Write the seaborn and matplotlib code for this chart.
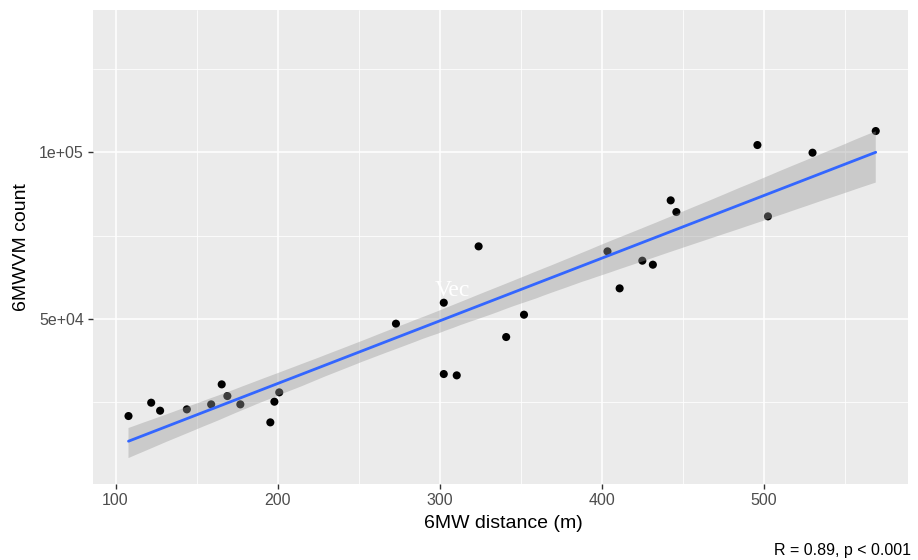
import numpy as np
import pandas as pd
import matplotlib
matplotlib.use("Agg")
import matplotlib.pyplot as plt
import seaborn as sns

# ---- data ----
distance_m = [108, 122, 127.5, 144, 159, 165.5, 169, 177, 195.5, 198, 201,
              273, 302.5, 302.5, 310.5, 324, 341, 352, 403.5, 411, 425,
              431.5, 442.5, 446, 496, 502.5, 530, 569]
wvm_count = [20900, 24900, 22500, 22900, 24400, 30400, 26900, 24400, 19000,
             25200, 28000, 48600, 54900, 33500, 33100, 71800, 44600, 51300,
             70300, 59200, 67500, 66300, 85600, 82100, 102200, 80800, 99900,
             106400]
x_ticks = [100, 200, 300, 400, 500]
y_ticks = [50000, 100000]
y_tick_labels = ["5e+04", "1e+05"]
annotation = "R = 0.89, p < 0.001"
label_text = "Vec"

df = pd.DataFrame({"dist": distance_m, "count": wvm_count})

sns.set_theme(style="darkgrid", rc={
    "axes.facecolor": "#EBEBEB",
    "grid.color": "white",
    "figure.facecolor": "white",
})
plt.rcParams["font.family"] = ["Liberation Sans", "DejaVu Sans"]

fig = plt.figure(figsize=(9.18, 5.6), dpi=100)
ax = fig.add_axes([93 / 918, 1 - 484 / 560, 815 / 918, 474 / 560])

# points first (ribbon drawn over them, as in ggplot)
sns.scatterplot(data=df, x="dist", y="count", color="black", s=34,
                edgecolor="none", ax=ax, zorder=2)

# confidence band
n_before = len(ax.collections)
sns.regplot(data=df, x="dist", y="count", scatter=False, ci=95, n_boot=2000,
            seed=1, color="#999999", line_kws={"alpha": 0}, ax=ax)
for coll in ax.collections[n_before:]:
    coll.set_facecolor("#999999")
    coll.set_alpha(0.4)
    coll.set_edgecolor("none")
    coll.set_zorder(3)

# fitted line
sns.regplot(data=df, x="dist", y="count", scatter=False, ci=None,
            color="#3366FF", line_kws={"linewidth": 2.0, "zorder": 4}, ax=ax)

ax.set_xlim(86.1, 588.9)
ax.set_ylim(510, 142710)
ax.set_xticks(x_ticks)
ax.set_xticklabels([str(t) for t in x_ticks])
ax.set_yticks(y_ticks)
ax.set_yticklabels(y_tick_labels)
ax.set_xticks([150, 250, 350, 450, 550], minor=True)
ax.set_yticks([25000, 75000, 125000], minor=True)
ax.grid(which="major", color="white", linewidth=1.1)
ax.grid(which="minor", color="white", linewidth=0.55)
ax.tick_params(which="major", length=3.5, width=1, color="#333333",
               labelcolor="#4D4D4D", labelsize=11.5, pad=3,
               bottom=True, left=True)
ax.tick_params(which="minor", length=0)
for sp in ax.spines.values():
    sp.set_visible(False)

ax.set_xlabel("6MW distance (m)", fontsize=14, color="black", va="center")
ax.xaxis.set_label_coords(0.503, -40 / 474)
ax.set_ylabel("6MWVM count", fontsize=14, color="black", va="center")
ax.yaxis.set_label_coords(-71 / 815, 0.5)

ax.text(308, 56900, label_text, color="white", fontsize=17,
        family=["Liberation Serif", "DejaVu Serif"], ha="center",
        va="baseline", zorder=5)

fig.text(911.5 / 918, 1 - 551 / 560, annotation, ha="right", va="center",
         fontsize=11.5, color="black")

fig.savefig("out.png", dpi=100)
